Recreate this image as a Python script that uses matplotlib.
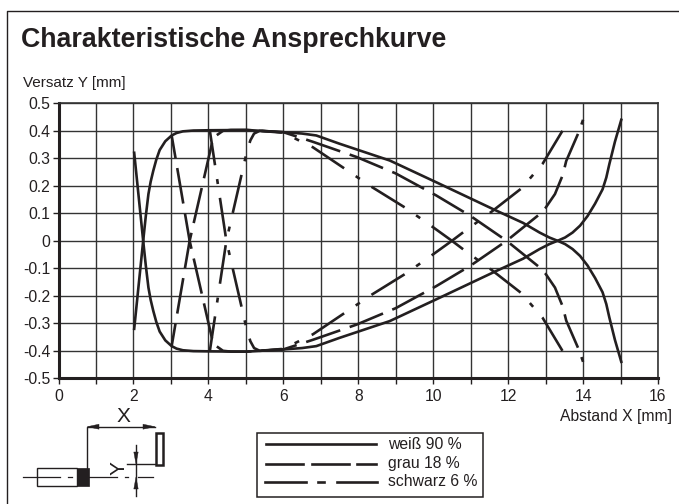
import matplotlib
matplotlib.use("Agg")
from matplotlib import pyplot as plt
from matplotlib.patches import Polygon, Rectangle

plt.rcParams["font.family"] = ["Liberation Sans", "DejaVu Sans"]
plt.rcParams["lines.scale_dashes"] = False

ink = "#231f20"

x_ticks = [0, 2, 4, 6, 8, 10, 12, 14, 16]
y_ticks = [0.5, 0.4, 0.3, 0.2, 0.1, 0, -0.1, -0.2, -0.3, -0.4, -0.5]
y_labels = ["0.5", "0.4", "0.3", "0.2", "0.1", "0", "-0.1", "-0.2", "-0.3", "-0.4", "-0.5"]

# weiss: beide Aeste, von links nach rechts
weiss_x = [2.02, 2.26, 2.33, 2.4, 2.46, 2.53, 2.61, 2.7, 2.85, 3.02, 3.15, 3.32, 3.6, 4.04, 5.02, 6.0, 6.5, 6.88, 7.5, 8.84, 10.08, 11.68, 12.4, 12.84, 13.1, 13.32, 13.52, 13.72, 13.92, 14.12, 14.32, 14.52, 14.62, 14.7, 14.85, 15.02]
weiss_oben = [-0.32, 0, 0.09, 0.17, 0.215, 0.255, 0.295, 0.33, 0.362, 0.383, 0.392, 0.398, 0.401, 0.402, 0.403, 0.395, 0.39, 0.383, 0.353, 0.292, 0.213, 0.11, 0.065, 0.03, 0.012, 0, -0.012, -0.03, -0.055, -0.09, -0.135, -0.187, -0.23, -0.278, -0.36, -0.44]
weiss_unten = [0.32, 0, -0.09, -0.17, -0.215, -0.255, -0.295, -0.33, -0.362, -0.383, -0.392, -0.398, -0.401, -0.402, -0.403, -0.395, -0.39, -0.383, -0.353, -0.292, -0.213, -0.11, -0.065, -0.03, -0.012, 0, 0.012, 0.03, 0.055, 0.09, 0.135, 0.187, 0.23, 0.278, 0.36, 0.44]

# grau: von rechts nach links, damit die Striche wie im Original liegen
grau_x = [14.0, 13.9, 13.55, 13.46, 13.25, 13.0, 12.87, 11.96, 11.0, 10.08, 9.0, 7.95, 6.79, 6.0, 5.0, 4.6, 4.39, 4.13, 3.5, 3.02]
grau_a = [0.44, 0.4, 0.29, 0.24, 0.17, 0.12, 0.1, 0, -0.09, -0.165, -0.245, -0.305, -0.36, -0.395, -0.403, -0.403, -0.4, -0.375, 0, 0.383]
grau_b = [-0.44, -0.4, -0.29, -0.24, -0.17, -0.12, -0.1, 0, 0.09, 0.165, 0.245, 0.305, 0.36, 0.395, 0.403, 0.403, 0.4, 0.375, 0, -0.383]

schwarz_x = [13.45, 12.92, 12.35, 11.55, 10.84, 10.5, 9.99, 9.27, 8.37, 7.5, 6.79, 6.0, 5.37, 5.22, 5.12, 5.02, 4.48, 4.04]
schwarz_a = [0.4, 0.28, 0.19, 0.105, 0.035, 0, -0.05, -0.119, -0.195, -0.275, -0.34, -0.393, -0.4, -0.39, -0.365, -0.32, 0, 0.4]
schwarz_b = [-0.4, -0.28, -0.19, -0.105, -0.035, 0, 0.05, 0.119, 0.195, 0.275, 0.34, 0.393, 0.4, 0.39, 0.365, 0.32, 0, -0.4]

legend_labels = ["weiß 90 %", "grau 18 %", "schwarz 6 %"]

fig = plt.figure(figsize=(6.79, 5.04), dpi=100)
W, H = 679, 504


def box(px0, py0, px1, py1):
    # Pixel von oben links -> Figurenanteile
    return [px0 / W, 1 - py1 / H, (px1 - px0) / W, (py1 - py0) / H]


def pt(px):
    return px * 0.72


kurve = 1.9
grau_ls = (pt(31), (pt(36), pt(10)))
schwarz_ls = (0, (pt(39), pt(14), pt(5), pt(14)))

ax = fig.add_axes(box(58.5, 103.3, 658, 378.3))
ax.set_xlim(0, 16)
ax.set_ylim(-0.5, 0.5)
ax.set_xticks(range(17))
ax.set_xticklabels([str(i) if i in x_ticks else "" for i in range(17)], fontsize=11.3, color=ink)
ax.set_yticks(y_ticks)
ax.set_yticklabels(y_labels, fontsize=11.3, color=ink)
ax.grid(True, color="#333333", linewidth=1.0)
ax.set_axisbelow(True)
ax.tick_params(axis="both", length=4.3, width=1.0, color=ink)
ax.tick_params(axis="x", pad=3.5)
ax.tick_params(axis="y", pad=1.5)
for side in ["top", "right"]:
    ax.spines[side].set_linewidth(1.2)
    ax.spines[side].set_color("#333333")
for side in ["left", "bottom"]:
    ax.spines[side].set_linewidth(2.2)
    ax.spines[side].set_color(ink)

ax.plot(weiss_x, weiss_oben, color=ink, lw=kurve)
ax.plot(weiss_x, weiss_unten, color=ink, lw=kurve)
ax.plot(grau_x, grau_a, color=ink, lw=kurve, linestyle=grau_ls)
ax.plot(grau_x, grau_b, color=ink, lw=kurve, linestyle=grau_ls)
ax.plot(schwarz_x, schwarz_a, color=ink, lw=kurve, linestyle=schwarz_ls)
ax.plot(schwarz_x, schwarz_b, color=ink, lw=kurve, linestyle=schwarz_ls)

# alles ausserhalb des Diagramms in Pixelkoordinaten
over = fig.add_axes([0, 0, 1, 1], facecolor="none")
over.set_xlim(0, W)
over.set_ylim(H, 0)
over.axis("off")

over.plot([6.7, 6.7, 679], [504, 11.3, 11.3], color=ink, lw=1.0)
over.text(21, 40, "Charakteristische Ansprechkurve", fontsize=19.3, fontweight="bold", color=ink, va="center")
over.text(23, 83, "Versatz Y [mm]", fontsize=11, color=ink, va="center")
over.text(671.7, 416, "Abstand X [mm]", fontsize=11.3, color=ink, va="center", ha="right")

# Legende
over.add_patch(Rectangle((257.3, 432.7), 225.4, 64.6, fill=False, ec=ink, lw=1.1))
over.plot([266, 376], [444.3, 444.3], color=ink, lw=kurve)
over.plot([266, 303, None, 312, 349, None, 357, 376], [463.7] * 8, color=ink, lw=kurve)
over.plot([265, 305.7, None, 317.7, 324, None, 336.7, 377.3], [482] * 8, color=ink, lw=kurve)
for label, yy in zip(legend_labels, [444.3, 463.7, 482]):
    over.text(388.3, yy, label, fontsize=11.3, color=ink, va="center")

# Skizze Sensor
over.add_patch(Rectangle((36.7, 468), 40, 18, fc="white", ec=ink, lw=1.0))
over.add_patch(Rectangle((76.7, 468), 12, 18, fc=ink, ec=ink, lw=0.5))
over.plot([22.7, 60, None, 68, 71.7, None, 88.7, 116.7, None, 125, 128, None, 138, 153], [477] * 14, color=ink, lw=0.9)
over.plot([87.3, 87.3, 155], [468, 426.7, 426.7], color=ink, lw=1.0)
over.add_patch(Polygon([(87.3, 426.7), (99, 424.2), (99, 429.2)], fc=ink, ec=ink, lw=0.3))
over.add_patch(Polygon([(155, 426.7), (143, 424.2), (143, 429.2)], fc=ink, ec=ink, lw=0.3))
over.text(123, 417, "X", fontsize=15, color=ink, ha="center", va="center")
over.add_patch(Rectangle((155.5, 432.5), 7, 32, fill=False, ec=ink, lw=1.8))
over.plot([126.7, 155], [464, 464], color=ink, lw=1.0)
over.plot([136, 136], [445, 496], color=ink, lw=1.0)
over.add_patch(Polygon([(136, 464), (133.8, 452), (138.2, 452)], fc=ink, ec=ink, lw=0.3))
over.add_patch(Polygon([(136, 477), (133.8, 489), (138.2, 489)], fc=ink, ec=ink, lw=0.3))
over.text(119.5, 468, "Y", fontsize=15, color=ink, ha="center", va="center", rotation=90)

fig.savefig("out.png", dpi=100)
